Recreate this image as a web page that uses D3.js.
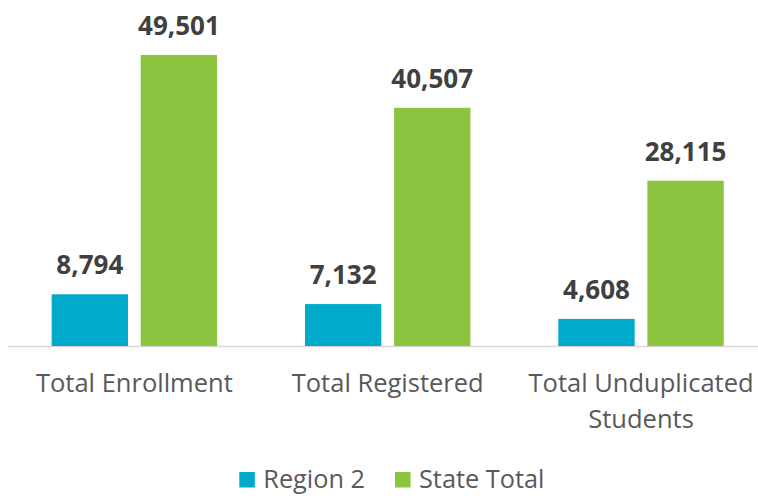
<!DOCTYPE html>
<html>
<head>
<meta charset="utf-8">
<script src="https://cdn.jsdelivr.net/npm/d3@7"></script>
<style>
  body { margin: 0; background: #fff; }
  text { font-family: "Open Sans", sans-serif; }
</style>
</head>
<body>
<svg id="chart" width="758" height="496"></svg>
<script>
var categories = [["Total Enrollment"], ["Total Registered"], ["Total Unduplicated", "Students"]];
var seriesNames = ["Region 2", "State Total"];
var region2 = [8794, 7132, 4608];
var stateTotal = [49501, 40507, 28115];
var colors = ["#00aacb", "#8cc43f"];

var svg = d3.select("#chart");
var baseline = 346;

var catKeys = categories.map(function(c) { return c.join(" "); });

var x0 = d3.scaleBand()
    .domain(catKeys)
    .range([7.7, 767.7])
    .paddingInner(0.347)
    .paddingOuter(0.1735);

var x1 = d3.scaleBand()
    .domain(seriesNames)
    .range([0, x0.bandwidth()])
    .paddingInner(0.143);

var y = d3.scaleLinear()
    .domain([0, 50000])
    .range([baseline, 52]);

var fmt = d3.format(",");

var rows = catKeys.map(function(k, i) {
    return { key: k, lines: categories[i], values: [region2[i], stateTotal[i]] };
});

// axis line
svg.append("line")
    .attr("x1", 8).attr("x2", 758)
    .attr("y1", baseline + 0.5).attr("y2", baseline + 0.5)
    .attr("stroke", "#d9d9d9")
    .attr("stroke-width", 1.5);

var groups = svg.selectAll("g.cat")
    .data(rows)
    .enter().append("g")
    .attr("class", "cat")
    .attr("transform", function(d) { return "translate(" + x0(d.key) + ",0)"; });

var bars = groups.selectAll("g.bar")
    .data(function(d) {
        return d.values.map(function(v, j) { return { name: seriesNames[j], value: v, idx: j }; });
    })
    .enter().append("g")
    .attr("class", "bar");

bars.append("rect")
    .attr("x", function(d) { return x1(d.name); })
    .attr("y", function(d) { return y(d.value); })
    .attr("width", x1.bandwidth())
    .attr("height", function(d) { return baseline - y(d.value); })
    .attr("fill", function(d) { return colors[d.idx]; });

bars.append("text")
    .attr("x", function(d) { return x1(d.name) + x1.bandwidth() / 2; })
    .attr("y", function(d) { return y(d.value) - 20; })
    .attr("text-anchor", "middle")
    .attr("font-size", 26)
    .attr("font-weight", "bold")
    .attr("fill", "#404040")
    .text(function(d) { return fmt(d.value); });

// category labels
groups.append("text")
    .attr("x", x0.bandwidth() / 2)
    .attr("y", 392)
    .attr("text-anchor", "middle")
    .attr("font-size", 25.5)
    .attr("fill", "#595959")
    .selectAll("tspan")
    .data(function(d) { return d.lines; })
    .enter().append("tspan")
    .attr("x", x0.bandwidth() / 2)
    .attr("dy", function(d, i) { return i == 0 ? 0 : 36; })
    .text(function(d) { return d; });

// legend
var legendX = [239.3, 395];
var legend = svg.selectAll("g.legend")
    .data(seriesNames)
    .enter().append("g")
    .attr("class", "legend")
    .attr("transform", function(d, i) { return "translate(" + legendX[i] + ",0)"; });

legend.append("rect")
    .attr("x", 0).attr("y", 472)
    .attr("width", 15.5).attr("height", 15.5)
    .attr("fill", function(d, i) { return colors[i]; });

legend.append("text")
    .attr("x", 24)
    .attr("y", 487.5)
    .attr("font-size", 25.3)
    .attr("fill", "#595959")
    .text(function(d) { return d; });
</script>
</body>
</html>
